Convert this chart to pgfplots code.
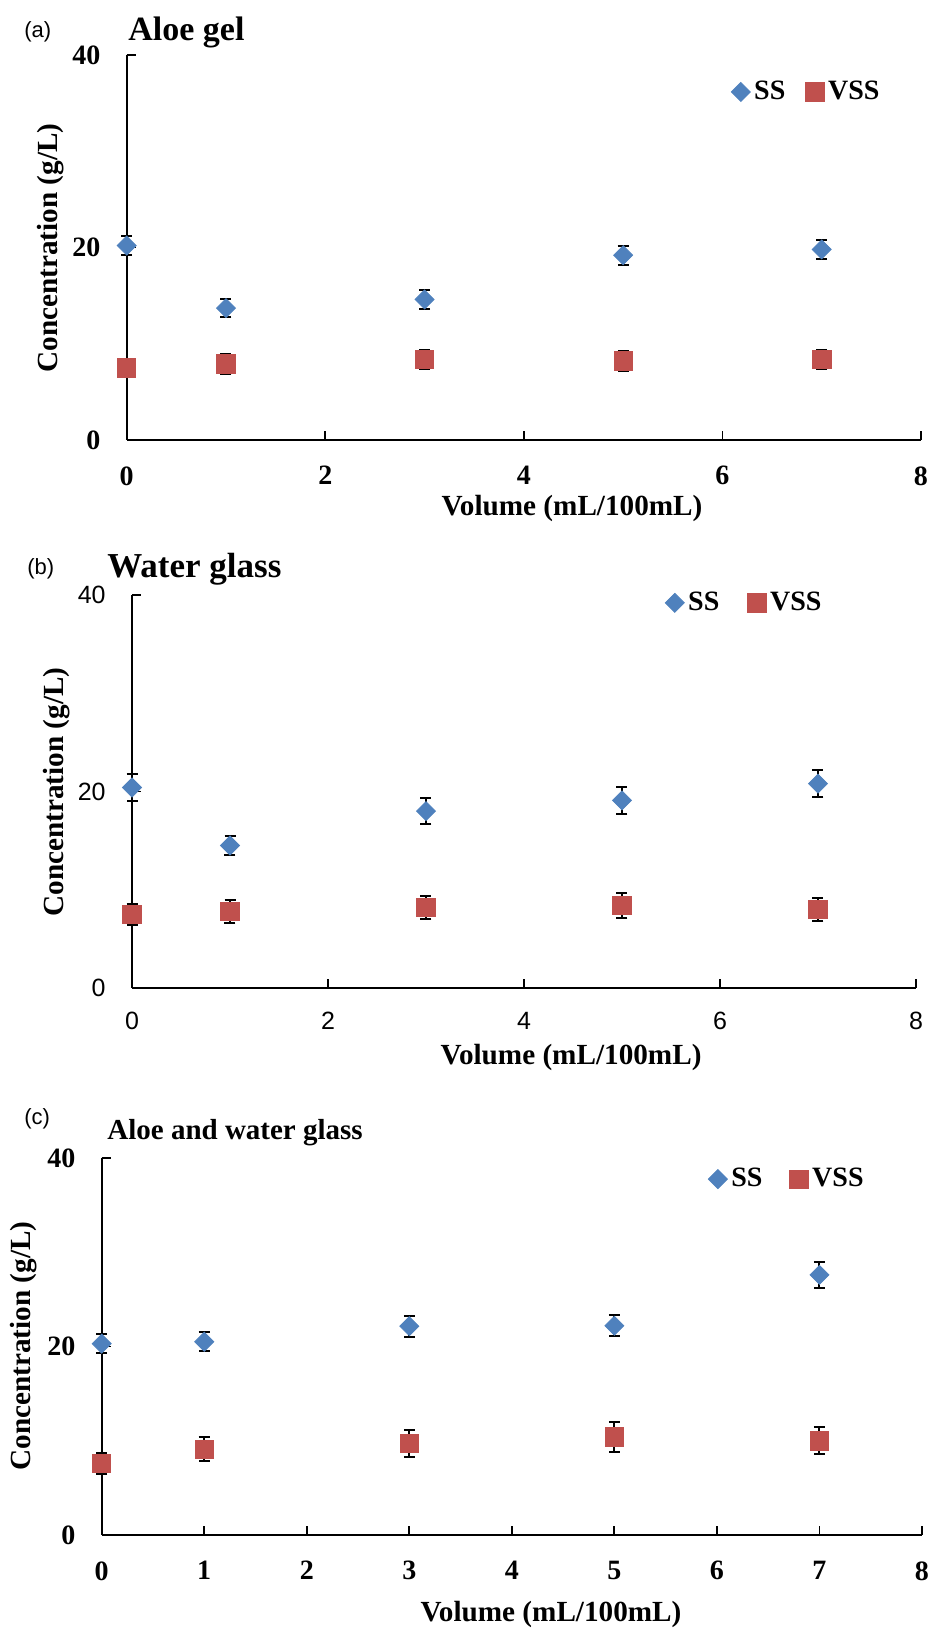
\documentclass[border=0pt]{standalone}
\usepackage{fontspec}
\setmainfont{Liberation Serif}
\newfontfamily\arialfont{Liberation Sans}
\usepackage{pgfplots}
\pgfplotsset{compat=1.18}
\definecolor{ssblue}{HTML}{4F81BD}
\definecolor{vssred}{HTML}{C0504D}
\newcommand{\fs}[1]{\fontsize{#1pt}{#1pt}\selectfont}
\pgfplotsset{
  panel/.style={
    scale only axis,
    axis x line=bottom, axis y line=left,
    axis line style={-, line width=0.9pt, black},
    xmin=0, xmax=8, ymin=0, ymax=40,
    ytick={0,20,40},
    tick align=inside,
    major tick length=4.5pt,
    tick style={black, line width=0.9pt},
    /pgf/number format/assume math mode=true,
    xticklabel style={anchor=north, inner sep=0pt, yshift=-13pt},
    yticklabel style={anchor=east, inner sep=0pt, xshift=-13pt},
    legend style={draw=none, fill=none, inner sep=0pt, legend columns=2,
      font=\fs{14}\bfseries, nodes={inner sep=1.5pt}},
    legend image code/.code={\path (-5pt,0pt) (5pt,0pt); \draw[##1] plot coordinates {(0pt,0pt)};},
    clip=false,
  },
  ss/.style={only marks, mark=square*, mark size=3.36pt,
    mark options={rotate=45, fill=ssblue, draw=ssblue},
    error bars/y dir=both, error bars/y explicit,
    error bars/error bar style={black, line width=1pt},
    error bars/error mark options={rotate=90, mark size=2.75pt, line width=1pt, black}},
  vss/.style={only marks, mark=square*, mark size=4.6pt,
    mark options={fill=vssred, draw=vssred},
    error bars/y dir=both, error bars/y explicit,
    error bars/error bar style={black, line width=1pt},
    error bars/error mark options={rotate=90, mark size=2.75pt, line width=1pt, black}},
}
\begin{document}
\begin{tikzpicture}[x=1pt,y=1pt]
\useasboundingbox (0,0) rectangle (465.5,814.5);

% ---------------- (a) ----------------
\node[anchor=west, inner sep=0pt, font=\arialfont\fs{11}] at (12,798.5) {(a)};
\node[anchor=base west, inner sep=0pt, font=\fs{17}\bfseries] at (64,794.25) {Aloe gel};
\begin{axis}[panel, at={(63.35pt,594.5pt)}, anchor=south west,
  width=397.15pt, height=192.5pt,
  xtick={0,2,4,6,8},
  ticklabel style={font=\fs{14}\bfseries},
  xlabel={Volume (mL/100mL)}, ylabel={Concentration (g/L)},
  every axis x label/.style={at={(axis description cs:0.5606,-0.1766)}, anchor=center, font=\fs{14.6}\bfseries},
  every axis y label/.style={at={(axis description cs:-0.0959,0.4987)}, rotate=90, anchor=center, font=\fs{14.6}\bfseries},
  legend style={at={(axis description cs:0.7596,0.904)}, anchor=west,
    /tikz/every even column/.append style={column sep=8pt}},
]
\addplot[ss] coordinates {(0,20.2) +- (0,1.0) (1,13.7) +- (0,0.95) (3,14.6) +- (0,1.0) (5,19.2) +- (0,1.0) (7,19.8) +- (0,1.0)};
\addplot[vss] coordinates {(0,7.5) +- (0,0.9) (1,7.9) +- (0,1.0) (3,8.35) +- (0,1.0) (5,8.2) +- (0,1.0) (7,8.4) +- (0,1.0)};
\legend{SS,VSS}
\end{axis}

% ---------------- (b) ----------------
\node[anchor=west, inner sep=0pt, font=\arialfont\fs{11}] at (13.5,530) {(b)};
\node[anchor=base west, inner sep=0pt, font=\fs{17.5}\bfseries] at (53.5,525.5) {Water glass};
\begin{axis}[panel, at={(66pt,320.5pt)}, anchor=south west,
  width=392pt, height=196.5pt,
  xtick={0,2,4,6,8},
  ticklabel style={font=\arialfont\fs{12.5}},
  xticklabel style={yshift=1pt},
  xlabel={Volume (mL/100mL)}, ylabel={Concentration (g/L)},
  every axis x label/.style={at={(axis description cs:0.56,-0.1756)}, anchor=center, font=\fs{14.6}\bfseries},
  every axis y label/.style={at={(axis description cs:-0.0963,0.4987)}, rotate=90, anchor=center, font=\fs{14.6}\bfseries},
  legend style={at={(axis description cs:0.6786,0.98)}, anchor=west,
    /tikz/every even column/.append style={column sep=12pt}},
]
\addplot[ss] coordinates {(0,20.4) +- (0,1.4) (1,14.5) +- (0,1.0) (3,18.0) +- (0,1.3) (5,19.1) +- (0,1.4) (7,20.8) +- (0,1.4)};
\addplot[vss] coordinates {(0,7.5) +- (0,1.1) (1,7.8) +- (0,1.2) (3,8.2) +- (0,1.2) (5,8.4) +- (0,1.25) (7,8.0) +- (0,1.2)};
\legend{SS,VSS}
\end{axis}

% ---------------- (c) ----------------
\node[anchor=west, inner sep=0pt, font=\arialfont\fs{11}] at (12,255) {(c)};
\node[anchor=base west, inner sep=0pt, font=\fs{14.5}\bfseries] at (53.5,244.5) {Aloe and water glass};
\begin{axis}[panel, at={(50.85pt,47pt)}, anchor=south west,
  width=410.15pt, height=188.5pt,
  xtick={0,1,2,3,4,5,6,7,8},
  ticklabel style={font=\fs{14}\bfseries},
  xlabel={Volume (mL/100mL)}, ylabel={Concentration (g/L)},
  every axis x label/.style={at={(axis description cs:0.5477,-0.2095)}, anchor=center, font=\fs{14.6}\bfseries},
  every axis y label/.style={at={(axis description cs:-0.0947,0.5013)}, rotate=90, anchor=center, font=\fs{14.6}\bfseries},
  legend style={at={(axis description cs:0.738,0.944)}, anchor=west,
    /tikz/every even column/.append style={column sep=11.5pt}},
]
\addplot[ss] coordinates {(0,20.3) +- (0,1.0) (1,20.5) +- (0,1.0) (3,22.15) +- (0,1.1) (5,22.2) +- (0,1.1) (7,27.6) +- (0,1.4)};
\addplot[vss] coordinates {(0,7.6) +- (0,1.1) (1,9.1) +- (0,1.3) (3,9.7) +- (0,1.4) (5,10.4) +- (0,1.55) (7,10.0) +- (0,1.45)};
\legend{SS,VSS}
\end{axis}
\end{tikzpicture}
\end{document}
